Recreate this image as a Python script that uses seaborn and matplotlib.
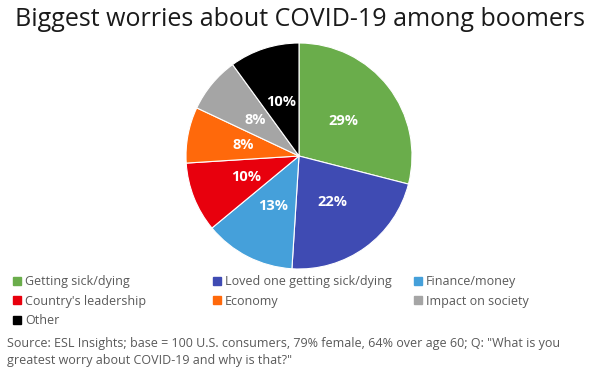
import seaborn as sns
import matplotlib
matplotlib.use("Agg")
from matplotlib import pyplot as plt
from matplotlib.lines import Line2D

categories = ["Getting sick/dying", "Loved one getting sick/dying", "Finance/money",
              "Country's leadership", "Economy", "Impact on society", "Other"]
shares = [29, 22, 13, 10, 8, 8, 10]
colors = ["#6AAD4B", "#3F4BB3", "#45A0DA", "#E8000D", "#FF690B", "#A5A5A5", "#000000"]

title = "Biggest worries about COVID-19 among boomers"
source = ("Source: ESL Insights; base = 100 U.S. consumers, 79% female, 64% over age 60; Q: \"What is you\n"
          "greatest worry about COVID-19 and why is that?\"")

sns.set_theme(style="white")
plt.rcParams["font.family"] = ["Open Sans", "DejaVu Sans"]
palette = sns.color_palette(colors)

W, H = 600, 375
fig = plt.figure(figsize=(W / 100, H / 100), dpi=100)

# pie axes placed by pixel geometry (center 299,156 r=113)
cx, cy, r = 299, 156, 113
ax = fig.add_axes([(cx - r) / W, (H - cy - r) / H, 2 * r / W, 2 * r / H])
wedges, texts = ax.pie(
    shares,
    colors=palette,
    startangle=90,
    counterclock=False,
    labels=[f"{v}%" for v in shares],
    labeldistance=0.5,
    wedgeprops=dict(edgecolor="white", linewidth=0.8),
    textprops=dict(color="white", fontweight="bold", fontsize=10.5, ha="center", va="center"),
)
ax.set_xlim(-1, 1)
ax.set_ylim(-1, 1)
ax.set_aspect("equal")
ax.axis("off")

fig.text(0.5, 1 - 20 / H, title, ha="center", va="center", fontsize=18, color="#1a1a1a")

# legend: three fixed columns
col_x = [13, 213, 414]
columns = [[0, 3, 6], [1, 4], [2, 5]]
for x, idx in zip(col_x, columns):
    handles = [Line2D([], [], marker="s", linestyle="none", markersize=5.5,
                      color=palette[i]) for i in idx]
    fig.legend(handles, [categories[i] for i in idx], loc="upper left",
               bbox_to_anchor=(x / W, 1 - 275 / H), frameon=False, fontsize=9,
               handlelength=0.6, handletextpad=0.35, borderpad=0, borderaxespad=0,
               labelspacing=0.52, labelcolor="#595959")

fig.text(7 / W, 1 - 352 / H, source, ha="left", va="center", fontsize=9,
         color="#595959", linespacing=1.45)

fig.savefig("out.png", dpi=100)
